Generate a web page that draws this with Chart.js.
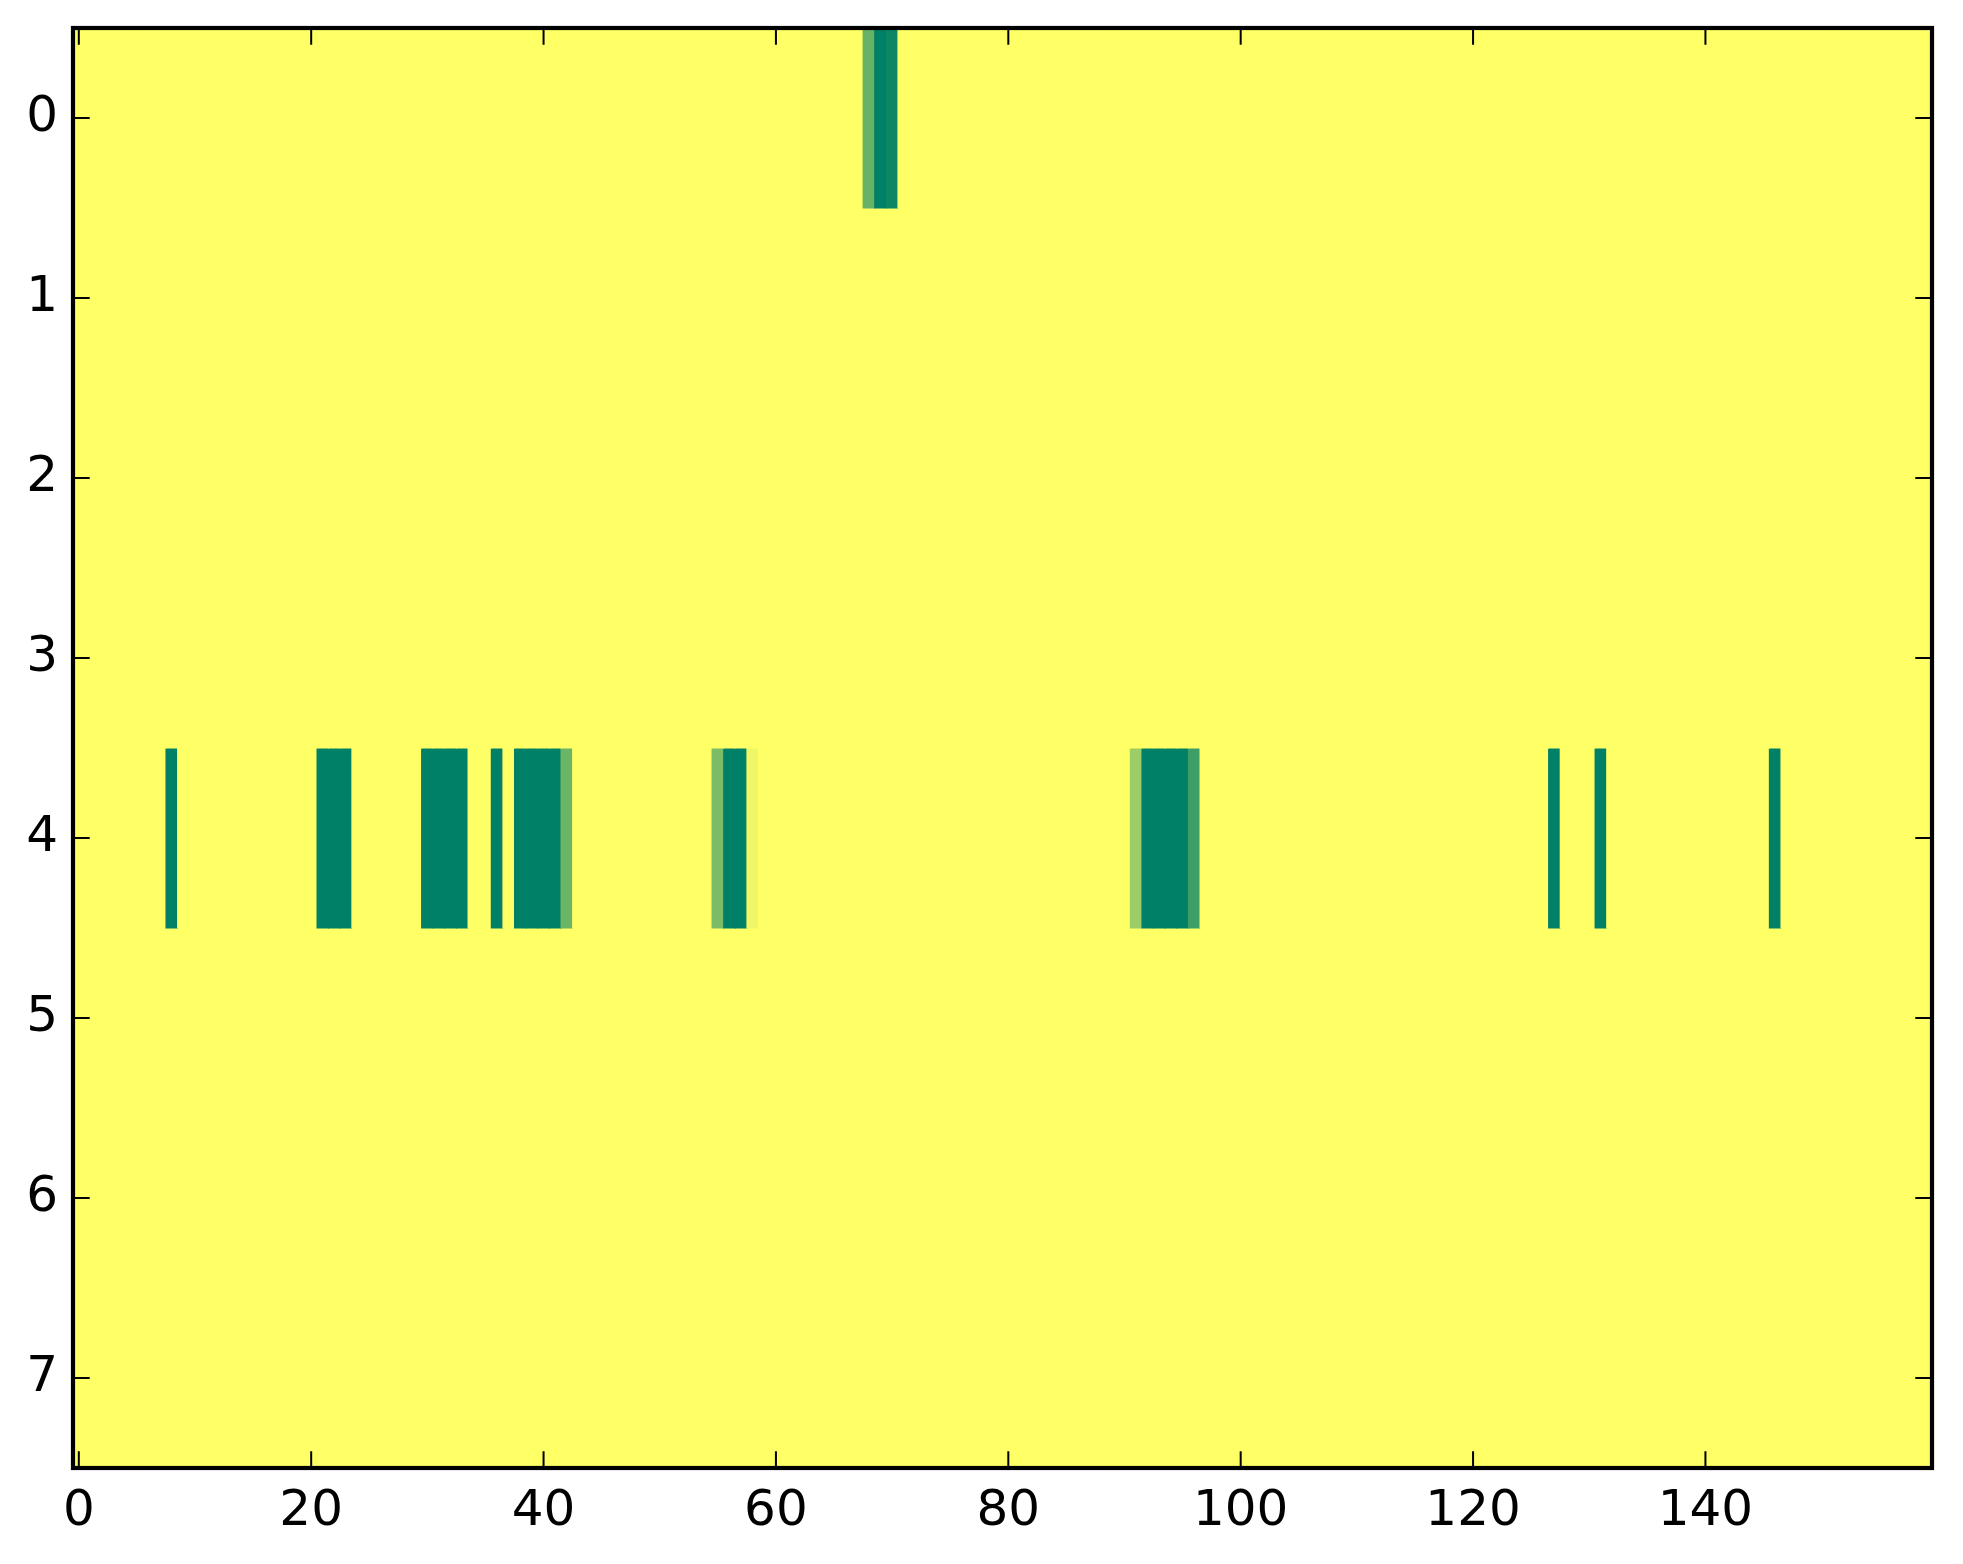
<!DOCTYPE html>
<html>
<head>
<meta charset="utf-8">
<script src="https://cdn.jsdelivr.net/npm/chart.js@4"></script>
<style>
  html, body { margin: 0; padding: 0; background: #ffffff; }
  #wrap { width: 1963px; height: 1564px; position: relative; }
</style>
</head>
<body>
<div id="wrap"><canvas id="heat"></canvas></div>
<script>
// grid size and tick labels
const colCount = 160;
const rowLabels = [0, 1, 2, 3, 4, 5, 6, 7];
const xTicks = [0, 20, 40, 60, 80, 100, 120, 140];

// every cell is at the top of the scale (1.0) except these ones
const row0Cols = [68, 69, 70];
const row0Vals = [0.40, 0.00, 0.05];
const row4Cols = [8, 21, 22, 23, 30, 31, 32, 33, 36, 38, 39, 40, 41, 42, 55, 56, 57, 58, 91, 92, 93, 94, 95, 96, 127, 131, 146];
const row4Vals = [0, 0, 0, 0, 0, 0, 0, 0, 0, 0, 0, 0, 0, 0.42, 0.48, 0, 0, 0.94, 0.61, 0, 0, 0, 0, 0.24, 0, 0, 0];

// matplotlib "summer" colormap
function summer(v) {
  const r = Math.round(255 * v);
  const g = Math.round(255 * (0.5 + v / 2));
  return `rgb(${r},${g},102)`;
}

function rowValues(r) {
  const vals = new Array(colCount).fill(1);
  if (r === 0) row0Cols.forEach((c, i) => { vals[c] = row0Vals[i]; });
  if (r === 4) row4Cols.forEach((c, i) => { vals[c] = row4Vals[i]; });
  return vals;
}

const datasets = rowLabels.map((r) => {
  const vals = rowValues(r);
  return {
    data: vals.map((v, c) => ({ x: c, y: [r - 0.5, r + 0.5] })),
    backgroundColor: vals.map(summer),
    borderWidth: 0,
    grouped: false,
    barPercentage: 1,
    categoryPercentage: 1,
    inflateAmount: 0.5
  };
});

const tickFont = { family: "'DejaVu Sans'", size: 50 };

// frame and inward ticks on all four sides
const frame = {
  id: 'frame',
  afterDraw(chart) {
    const { ctx, chartArea: a, scales } = chart;
    const len = 16.7;
    ctx.save();
    ctx.strokeStyle = '#000';
    ctx.lineWidth = 2;
    ctx.beginPath();
    xTicks.forEach((v) => {
      const px = scales.x.getPixelForValue(v);
      ctx.moveTo(px, a.bottom); ctx.lineTo(px, a.bottom - len);
      ctx.moveTo(px, a.top); ctx.lineTo(px, a.top + len);
    });
    rowLabels.forEach((v) => {
      const py = scales.y.getPixelForValue(v);
      ctx.moveTo(a.left, py); ctx.lineTo(a.left + len, py);
      ctx.moveTo(a.right, py); ctx.lineTo(a.right - len, py);
    });
    ctx.stroke();
    ctx.lineWidth = 4.2;
    ctx.strokeRect(a.left, a.top, a.right - a.left, a.bottom - a.top);
    ctx.restore();
  }
};

new Chart(document.getElementById('heat'), {
  type: 'bar',
  data: { datasets: datasets },
  options: {
    responsive: true,
    maintainAspectRatio: false,
    devicePixelRatio: 1,
    animation: false,
    events: [],
    layout: { padding: { top: 28, right: 31, left: 0, bottom: 0 } },
    plugins: { legend: { display: false }, tooltip: { enabled: false } },
    scales: {
      x: {
        type: 'linear',
        min: -0.5,
        max: colCount - 0.5,
        offset: false,
        grid: { display: false, offset: false, drawTicks: false },
        border: { display: false },
        afterBuildTicks: (axis) => { axis.ticks = xTicks.map((v) => ({ value: v })); },
        afterFit: (axis) => { axis.height = 96; axis.paddingLeft = 0; axis.paddingRight = 0; },
        ticks: { font: tickFont, color: '#000', padding: 14, maxRotation: 0, autoSkip: false }
      },
      y: {
        type: 'linear',
        reverse: true,
        min: -0.5,
        max: 7.5,
        grid: { display: false, drawTicks: false },
        border: { display: false },
        afterBuildTicks: (axis) => { axis.ticks = rowLabels.map((v) => ({ value: v })); },
        afterFit: (axis) => { axis.width = 73; axis.paddingTop = 0; axis.paddingBottom = 0; },
        ticks: { font: tickFont, color: '#000', padding: 15 }
      }
    }
  },
  plugins: [frame]
});
</script>
</body>
</html>
